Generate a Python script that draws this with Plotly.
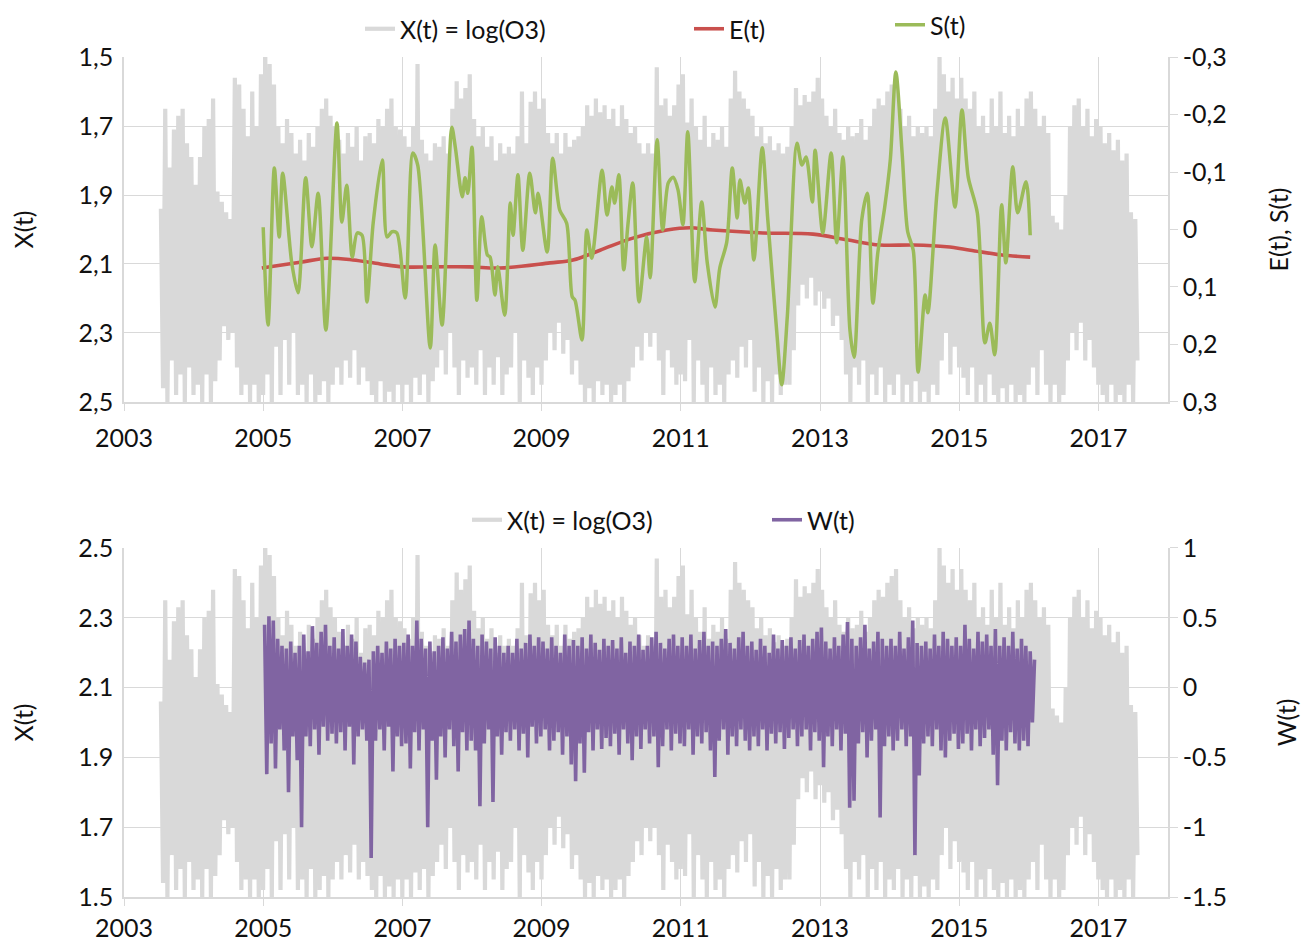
import numpy as np
import plotly.graph_objects as go

# ---------------- data ----------------
# X(t) = log(O3): grey series, one value every 1/32 year starting 2003.53
# (values as they appear on the lower panel's left axis)
x_log_o3 = [
    2.06, 1.54, 2.35, 1.50, 2.18, 1.62, 2.29, 1.52, 2.33, 1.58, 2.35, 1.50, 2.25, 1.60, 2.21, 1.52,
    2.13, 1.55, 2.21, 1.50, 2.30, 1.58, 2.32, 1.50, 2.38, 1.56, 2.11, 1.62, 2.08, 1.72, 2.05, 1.68,
    2.03, 1.70, 2.44, 1.60, 2.42, 1.52, 2.35, 1.55, 2.27, 1.50, 2.40, 1.55, 2.30, 1.50, 2.45, 1.52,
    2.50, 1.58, 2.48, 1.50, 2.42, 1.66, 2.30, 1.52, 2.25, 1.68, 2.32, 1.55, 2.28, 1.70, 2.22, 1.52,
    2.26, 1.55, 2.20, 1.50, 2.28, 1.58, 2.24, 1.50, 2.30, 1.52, 2.35, 1.56, 2.38, 1.50, 2.33, 1.55,
    2.30, 1.60, 2.26, 1.55, 2.22, 1.62, 2.28, 1.57, 2.24, 1.65, 2.30, 1.55, 2.20, 1.60, 2.27, 1.56,
    2.28, 1.52, 2.25, 1.50, 2.32, 1.56, 2.30, 1.50, 2.35, 1.53, 2.38, 1.50, 2.30, 1.55, 2.29, 1.50,
    2.27, 1.55, 2.24, 1.50, 2.30, 1.57, 2.48, 1.52, 2.26, 1.58, 2.22, 1.50, 2.20, 1.56, 2.25, 1.60,
    2.24, 1.65, 2.27, 1.58, 2.22, 1.70, 2.35, 1.60, 2.43, 1.52, 2.38, 1.62, 2.41, 1.57, 2.45, 1.60,
    2.32, 1.55, 2.27, 1.65, 2.30, 1.52, 2.24, 1.60, 2.27, 1.55, 2.20, 1.63, 2.25, 1.52, 2.22, 1.58,
    2.24, 1.60, 2.22, 1.70, 2.27, 1.50, 2.40, 1.62, 2.25, 1.57, 2.37, 1.52, 2.40, 1.60, 2.35, 1.55,
    2.38, 1.62, 2.28, 1.70, 2.25, 1.65, 2.28, 1.73, 2.22, 1.64, 2.28, 1.68, 2.24, 1.58, 2.26, 1.62,
    2.27, 1.55, 2.30, 1.50, 2.36, 1.54, 2.33, 1.50, 2.38, 1.56, 2.34, 1.52, 2.36, 1.55, 2.32, 1.50,
    2.35, 1.52, 2.30, 1.55, 2.36, 1.50, 2.32, 1.56, 2.28, 1.60, 2.30, 1.66, 2.25, 1.62, 2.22, 1.70,
    2.25, 1.66, 2.22, 1.70, 2.47, 1.62, 2.36, 1.52, 2.38, 1.65, 2.33, 1.60, 2.36, 1.55, 2.42, 1.58,
    2.45, 1.56, 2.31, 1.68, 2.38, 1.50, 2.30, 1.62, 2.26, 1.55, 2.33, 1.50, 2.24, 1.60, 2.28, 1.52,
    2.26, 1.55, 2.30, 1.50, 2.24, 1.58, 2.38, 1.62, 2.46, 1.57, 2.40, 1.66, 2.38, 1.60, 2.35, 1.68,
    2.33, 1.53, 2.27, 1.60, 2.30, 1.50, 2.25, 1.56, 2.27, 1.50, 2.23, 1.58, 2.25, 1.52, 2.22, 1.55,
    2.24, 1.55, 2.30, 1.65, 2.41, 1.78, 2.36, 1.84, 2.39, 1.80, 2.37, 1.86, 2.40, 1.78, 2.44, 1.82,
    2.38, 1.77, 2.33, 1.80, 2.30, 1.72, 2.35, 1.75, 2.28, 1.68, 2.26, 1.58, 2.30, 1.50, 2.27, 1.60,
    2.28, 1.55, 2.32, 1.62, 2.26, 1.50, 2.30, 1.58, 2.35, 1.52, 2.38, 1.60, 2.36, 1.50, 2.40, 1.55,
    2.42, 1.52, 2.44, 1.58, 2.35, 1.50, 2.30, 1.55, 2.33, 1.50, 2.27, 1.56, 2.30, 1.50, 2.28, 1.53,
    2.30, 1.50, 2.27, 1.55, 2.35, 1.52, 2.50, 1.62, 2.45, 1.70, 2.40, 1.58, 2.44, 1.66, 2.38, 1.60,
    2.44, 1.57, 2.38, 1.52, 2.35, 1.60, 2.40, 1.50, 2.30, 1.55, 2.33, 1.50, 2.28, 1.58, 2.38, 1.52,
    2.30, 1.50, 2.40, 1.54, 2.28, 1.50, 2.33, 1.55, 2.27, 1.50, 2.35, 1.52, 2.30, 1.50, 2.38, 1.55,
    2.40, 1.60, 2.35, 1.52, 2.30, 1.65, 2.33, 1.55, 2.28, 1.50, 2.04, 1.55, 2.02, 1.50, 2.00, 1.52,
    2.10, 1.62, 2.30, 1.70, 2.36, 1.65, 2.38, 1.73, 2.30, 1.62, 2.35, 1.68, 2.27, 1.60, 2.32, 1.55,
    2.30, 1.52, 2.25, 1.50, 2.28, 1.55, 2.23, 1.50, 2.26, 1.52, 2.20, 1.50, 2.22, 1.55, 2.05, 1.50,
    2.03, 1.62,
]
x_start, x_step = 2003.53, 1 / 32

# W(t): residual series, one value every 1/32 year starting 2005.02
w_values = [
    0.45, -0.62, 0.51, -0.40, 0.48, -0.58, 0.35, -0.30, 0.30, -0.45, 0.28, -0.75, 0.33, -0.35, 0.25, -0.52,
    0.30, -1.00, 0.38, -0.35, 0.26, -0.42, 0.44, -0.30, 0.32, -0.48, 0.40, -0.28, 0.45, -0.38, 0.30, -0.33,
    0.36, -0.40, 0.28, -0.32, 0.42, -0.45, 0.30, -0.28, 0.38, -0.55, 0.33, -0.35, 0.22, -0.30, 0.18, -0.38,
    0.20, -1.22, 0.26, -0.38, 0.30, -0.30, 0.25, -0.45, 0.33, -0.28, 0.28, -0.60, 0.35, -0.35, 0.30, -0.42,
    0.32, -0.40, 0.38, -0.58, 0.30, -0.32, 0.48, -0.45, 0.35, -0.30, 0.28, -1.00, 0.33, -0.38, 0.26, -0.66,
    0.30, -0.35, 0.36, -0.50, 0.28, -0.30, 0.40, -0.42, 0.33, -0.60, 0.38, -0.32, 0.42, -0.45, 0.48, -0.38,
    0.35, -0.45, 0.30, -0.85, 0.38, -0.40, 0.33, -0.30, 0.28, -0.82, 0.36, -0.35, 0.30, -0.48, 0.25, -0.32,
    0.30, -0.38, 0.25, -0.30, 0.35, -0.45, 0.28, -0.33, 0.32, -0.50, 0.38, -0.28, 0.30, -0.40, 0.36, -0.35,
    0.33, -0.30, 0.28, -0.45, 0.36, -0.38, 0.30, -0.32, 0.25, -0.48, 0.38, -0.35, 0.30, -0.55, 0.34, -0.67,
    0.30, -0.40, 0.36, -0.61, 0.28, -0.32, 0.38, -0.45, 0.32, -0.30, 0.27, -0.44, 0.35, -0.36, 0.30, -0.42,
    0.34, -0.33, 0.28, -0.48, 0.36, -0.30, 0.25, -0.40, 0.33, -0.52, 0.30, -0.35, 0.38, -0.44, 0.27, -0.30,
    0.30, -0.40, 0.36, -0.35, 0.40, -0.57, 0.32, -0.42, 0.28, -0.30, 0.35, -0.45, 0.38, -0.33, 0.30, -0.40,
    0.36, -0.42, 0.30, -0.30, 0.38, -0.48, 0.28, -0.35, 0.34, -0.40, 0.40, -0.32, 0.30, -0.45, 0.33, -0.64,
    0.30, -0.38, 0.35, -0.30, 0.42, -0.48, 0.32, -0.35, 0.28, -0.42, 0.36, -0.30, 0.40, -0.38, 0.30, -0.45,
    0.33, -0.35, 0.27, -0.42, 0.35, -0.30, 0.30, -0.45, 0.25, -0.33, 0.38, -0.40, 0.28, -0.32, 0.34, -0.44,
    0.30, -0.36, 0.36, -0.30, 0.28, -0.42, 0.34, -0.35, 0.38, -0.30, 0.30, -0.45, 0.35, -0.32, 0.40, -0.38,
    0.43, -0.57, 0.33, -0.35, 0.28, -0.42, 0.36, -0.30, 0.30, -0.45, 0.38, -0.33, 0.47, -0.86, 0.35, -0.81,
    0.30, -0.40, 0.36, -0.32, 0.45, -0.50, 0.28, -0.38, 0.33, -0.30, 0.40, -0.93, 0.35, -0.42, 0.30, -0.35,
    0.35, -0.45, 0.30, -0.38, 0.40, -0.30, 0.28, -0.42, 0.36, -0.35, 0.48, -1.20, 0.32, -0.63, 0.30, -0.40,
    0.33, -0.35, 0.28, -0.42, 0.38, -0.30, 0.30, -0.45, 0.40, -0.50, 0.35, -0.38, 0.30, -0.33, 0.36, -0.44,
    0.30, -0.40, 0.45, -0.33, 0.35, -0.45, 0.28, -0.30, 0.40, -0.42, 0.33, -0.36, 0.38, -0.30, 0.30, -0.48,
    0.42, -0.70, 0.30, -0.38, 0.36, -0.45, 0.30, -0.32, 0.40, -0.40, 0.28, -0.45, 0.35, -0.38, 0.30, -0.42,
    0.26, -0.25, 0.20,
]
w_start, w_step = 2005.02, 1 / 32

# E(t): trend
e_years = [2004.98, 2005.53, 2005.92, 2006.29, 2006.68, 2007.01, 2007.44, 2007.97, 2008.40,
           2009.12, 2009.45, 2009.84, 2010.31, 2010.80, 2011.13, 2011.46, 2012.18, 2012.90,
           2013.39, 2013.86, 2014.34, 2014.82, 2015.16, 2015.59, 2016.02]
e_values = [0.067, 0.057, 0.050, 0.053, 0.060, 0.065, 0.065, 0.065, 0.067,
            0.058, 0.053, 0.036, 0.015, 0.001, -0.003, 0.001, 0.006, 0.008,
            0.018, 0.027, 0.027, 0.030, 0.036, 0.044, 0.048]

# S(t): seasonal component
s_years = [2005.00, 2005.07, 2005.16, 2005.23, 2005.28, 2005.41, 2005.50, 2005.61, 2005.70, 2005.79,
           2005.90, 2006.06, 2006.13, 2006.20, 2006.28, 2006.35, 2006.42, 2006.49, 2006.58, 2006.71,
           2006.78, 2006.85, 2006.92, 2007.04, 2007.15, 2007.22, 2007.40, 2007.47, 2007.57, 2007.71,
           2007.76, 2007.86, 2007.90, 2007.94, 2008.00, 2008.07, 2008.14, 2008.22, 2008.26, 2008.33,
           2008.37, 2008.47, 2008.55, 2008.59, 2008.66, 2008.73, 2008.83, 2008.91, 2008.95, 2009.08,
           2009.16, 2009.26, 2009.36, 2009.44, 2009.48, 2009.58, 2009.65, 2009.72, 2009.87, 2009.94,
           2010.01, 2010.05, 2010.11, 2010.18, 2010.24, 2010.31, 2010.40, 2010.51, 2010.56, 2010.66,
           2010.74, 2010.82, 2010.89, 2010.96, 2011.03, 2011.10, 2011.20, 2011.30, 2011.38, 2011.49,
           2011.56, 2011.66, 2011.74, 2011.81, 2011.85, 2011.92, 2011.97, 2012.05, 2012.17, 2012.25,
           2012.38, 2012.45, 2012.53, 2012.67, 2012.74, 2012.80, 2012.89, 2012.93, 2013.04, 2013.16,
           2013.24, 2013.33, 2013.43, 2013.49, 2013.60, 2013.68, 2013.76, 2013.83, 2013.93, 2014.01,
           2014.09, 2014.18, 2014.26, 2014.34, 2014.41, 2014.51, 2014.55, 2014.68, 2014.80, 2014.94,
           2015.04, 2015.13, 2015.26, 2015.37, 2015.44, 2015.51, 2015.61, 2015.67, 2015.77, 2015.84,
           2015.96, 2016.02]
s_values = [-0.004, 0.166, -0.107, 0.013, -0.098, 0.058, 0.110, -0.090, 0.030, -0.063,
            0.175, -0.185, -0.013, -0.077, 0.048, 0.006, 0.010, 0.126, -0.011, -0.121,
            0.013, 0.004, 0.006, 0.119, -0.133, -0.112, 0.206, 0.027, 0.166, -0.178,
            -0.143, -0.057, -0.090, -0.063, -0.143, 0.123, -0.022, 0.044, 0.048, 0.114,
            0.065, 0.149, -0.046, 0.010, -0.095, 0.036, -0.098, -0.029, -0.063, 0.039,
            -0.124, -0.034, -0.011, 0.117, 0.123, 0.192, 0.001, 0.050, -0.103, -0.025,
            -0.074, -0.046, -0.095, 0.070, -0.008, -0.081, 0.126, 0.013, 0.084, -0.156,
            0.001, -0.081, -0.091, -0.069, -0.008, -0.170, 0.091, -0.048, 0.058, 0.135,
            0.067, 0.022, -0.107, -0.020, -0.086, -0.046, -0.072, 0.053, -0.142, -0.017,
            0.180, 0.270, 0.152, -0.150, -0.112, -0.126, -0.048, -0.138, 0.006, -0.133,
            0.023, -0.126, 0.175, 0.222, -0.017, -0.063, 0.128, 0.041, -0.039, -0.121,
            -0.274, -0.133, 0.004, 0.036, 0.248, 0.114, 0.145, -0.063, -0.194, -0.039,
            -0.208, -0.091, -0.029, 0.197, 0.163, 0.218, -0.043, 0.058, -0.109, -0.029,
            -0.083, 0.010]

# axis ticks / labels
year_ticks = [2003, 2005, 2007, 2009, 2011, 2013, 2015, 2017]
x_ticks_top = [1.5, 1.7, 1.9, 2.1, 2.3, 2.5]
es_ticks = [-0.3, -0.2, -0.1, 0.0, 0.1, 0.2, 0.3]
x_ticks_bottom = [1.5, 1.7, 1.9, 2.1, 2.3, 2.5]
w_ticks = [-1.5, -1.0, -0.5, 0.0, 0.5, 1.0]

# ---------------- styling ----------------
GRAY = "#d9d9d9"
RED = "#c9504d"
GREEN = "#9bbb59"
PURPLE = "#8064a2"
GRID = "#d9d9d9"
TXT = "#111111"
FONT = "Lato"
FS = 25

# the page body adds an 8 px offset; the figure is sized so the page matches 1313x943
FIG_W, FIG_H = 1305, 935


def comma(v):
    return ("%g" % v).replace(".", ",")


def dot(v):
    return "%g" % v


grey_t = x_start + np.arange(len(x_log_o3)) * x_step
w_t = w_start + np.arange(len(w_values)) * w_step
# the upper panel draws the same grey series against its inverted X(t) scale
x_upper = [4.0 - v for v in x_log_o3]

fig = go.Figure()
fig.add_trace(go.Scatter(x=grey_t, y=x_upper, mode="lines", name="X(t) = log(O3)",
                         line=dict(color=GRAY, width=4.2, simplify=False),
                         xaxis="x", yaxis="y", legend="legend"))
fig.add_trace(go.Scatter(x=e_years, y=e_values, mode="lines", name="E(t)",
                         line=dict(color=RED, width=3.6, shape="spline", smoothing=1.0),
                         xaxis="x", yaxis="y2", legend="legend2"))
fig.add_trace(go.Scatter(x=s_years, y=s_values, mode="lines", name="S(t)",
                         line=dict(color=GREEN, width=3.5, shape="spline", smoothing=0.8),
                         xaxis="x", yaxis="y2", legend="legend3"))
fig.add_trace(go.Scatter(x=grey_t, y=x_log_o3, mode="lines", name="X(t) = log(O3)",
                         line=dict(color=GRAY, width=4.2, simplify=False),
                         xaxis="x2", yaxis="y3", legend="legend4"))
fig.add_trace(go.Scatter(x=w_t, y=w_values, mode="lines", name="W(t)",
                         line=dict(color=PURPLE, width=3.6, simplify=False),
                         xaxis="x2", yaxis="y4", legend="legend5"))

common_x = dict(range=[2003, 2018], tickmode="array", tickvals=year_ticks,
                ticktext=[str(y) for y in year_ticks], showgrid=True, gridcolor=GRID, gridwidth=1,
                showline=True, linecolor=GRID, linewidth=1.5, ticks="outside", ticklen=7,
                tickcolor=GRID, zeroline=False, tickfont=dict(size=FS, color=TXT))
common_yl = dict(showgrid=True, gridcolor=GRID, gridwidth=1, showline=True, linecolor=GRID,
                 linewidth=1.5, zeroline=False, ticks="", tickfont=dict(size=FS, color=TXT),
                 ticklabelstandoff=4)
common_yr = dict(showgrid=False, showline=True, linecolor=GRID, linewidth=1.5, zeroline=False,
                 ticks="outside", ticklen=8, tickcolor=GRID, tickfont=dict(size=FS, color=TXT),
                 ticklabelstandoff=0)

TOP_DOM = [0.5893, 1.0]
BOT_DOM = [0.0, 0.4155]

fig.update_layout(
    width=FIG_W, height=FIG_H,
    margin=dict(l=116, r=145, t=49, b=46, autoexpand=False),
    paper_bgcolor="white", plot_bgcolor="white",
    font=dict(family=FONT, size=FS, color=TXT),
    xaxis=dict(domain=[0, 1], anchor="y", ticklabelstandoff=6, **common_x),
    yaxis=dict(domain=TOP_DOM, anchor="x", range=[2.5, 1.5], tickmode="array",
               tickvals=x_ticks_top, ticktext=[comma(v) for v in x_ticks_top],
               title=dict(text="X(t)", standoff=44, font=dict(size=FS)), **common_yl),
    yaxis2=dict(overlaying="y", side="right", anchor="x", range=[0.3, -0.3], tickmode="array",
                tickvals=es_ticks, ticktext=[comma(v) for v in es_ticks],
                title=dict(text="E(t), S(t)", standoff=45, font=dict(size=FS)), **common_yr),
    xaxis2=dict(domain=[0, 1], anchor="y3", ticklabelstandoff=1, **common_x),
    yaxis3=dict(domain=BOT_DOM, anchor="x2", range=[1.5, 2.5], tickmode="array",
                tickvals=x_ticks_bottom, ticktext=[dot(v) for v in x_ticks_bottom],
                title=dict(text="X(t)", standoff=44, font=dict(size=FS)), **common_yl),
    yaxis4=dict(overlaying="y3", side="right", anchor="x2", range=[-1.5, 1.0], tickmode="array",
                tickvals=w_ticks, ticktext=[dot(v) for v in w_ticks],
                title=dict(text="W(t)", standoff=53, font=dict(size=FS)), **common_yr),
    showlegend=True,
)

leg_common = dict(orientation="h", xanchor="left", yanchor="middle", bgcolor="rgba(0,0,0,0)",
                  borderwidth=0, font=dict(size=FS, color=TXT, family=FONT), itemwidth=30)


def px_to_paper_x(px):
    return (px - 124) / 1044.0


def px_to_paper_y(py):
    return (897 - py) / 840.0


fig.update_layout(
    legend=dict(x=px_to_paper_x(360), y=px_to_paper_y(29), **leg_common),
    legend2=dict(x=px_to_paper_x(689), y=px_to_paper_y(29), **leg_common),
    legend3=dict(x=px_to_paper_x(890), y=px_to_paper_y(25), **leg_common),
    legend4=dict(x=px_to_paper_x(467), y=px_to_paper_y(520), **leg_common),
    legend5=dict(x=px_to_paper_x(767), y=px_to_paper_y(520), **leg_common),
)

fig.write_html("out.html")
